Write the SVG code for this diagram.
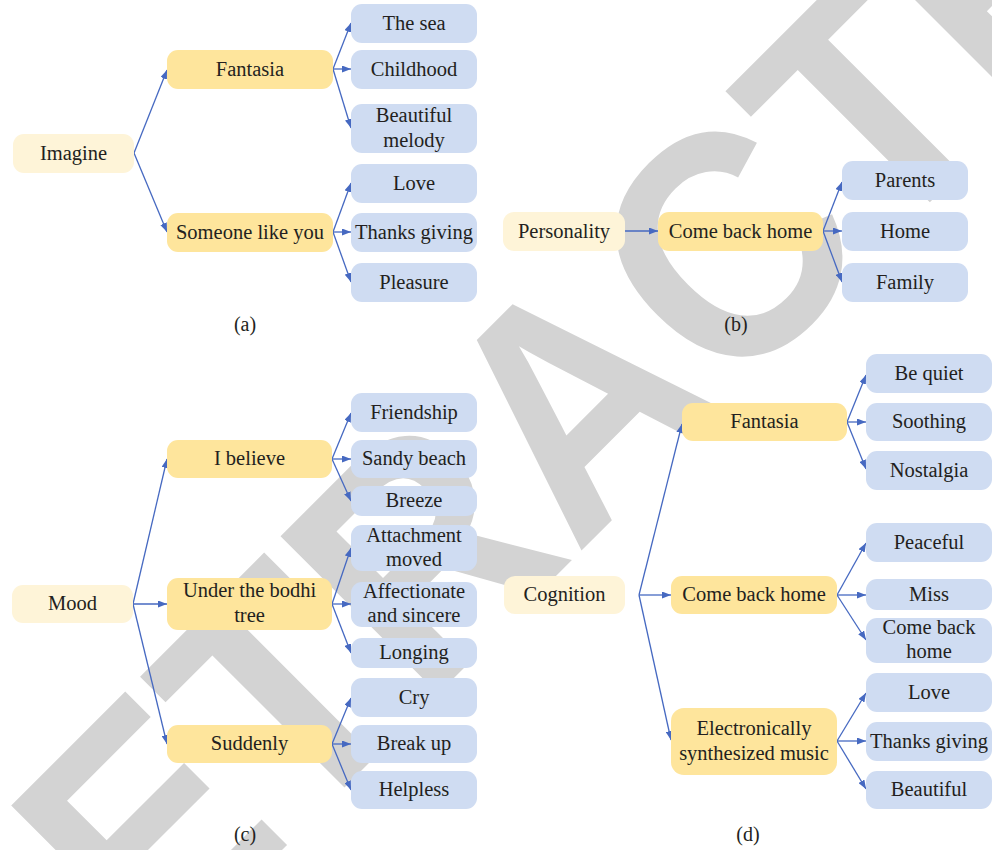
<svg xmlns="http://www.w3.org/2000/svg" width="992" height="850" viewBox="0 0 992 850">
<defs>
<style>
.root{fill:#FEF4D8}
.mid{fill:#FEE59C}
.leaf{fill:#CFDCF2}
.t{font-family:"Liberation Serif","Times New Roman",serif;font-size:20.5px;fill:#231F20;text-anchor:middle}
.cap{font-family:"Liberation Serif","Times New Roman",serif;font-size:20px;fill:#231F20;text-anchor:middle}
.c path{fill:none;stroke:#4669C1;stroke-width:1.3;marker-end:url(#ah)}
.wm{font-family:"Liberation Sans",Arial,sans-serif;font-weight:bold;font-size:324px;fill:#D3D3D3}
</style>
<marker id="ah" markerUnits="userSpaceOnUse" markerWidth="9" markerHeight="7" refX="9" refY="3.5" orient="auto">
<path d="M0,0 L9,3.5 L0,7 z" fill="#4669C1"/>
</marker>
</defs>
<rect width="992" height="850" fill="#FFFFFF"/>
<text class="wm" transform="translate(2.5 1129.5) rotate(-45) scale(0.92 1)">RETRACTED</text>

<g id="connectors" class="c">
<path d="M134,153 L167,70"/>
<path d="M134,153 L167,232"/>
<path d="M333,69 L351,23"/>
<path d="M333,69 L351,69"/>
<path d="M333,69 L351,128"/>
<path d="M333,232 L351,183"/>
<path d="M333,232 L351,232"/>
<path d="M333,232 L351,282"/>

<path d="M625,231 L658,231"/>
<path d="M823,231 L842,182"/>
<path d="M823,231 L842,231"/>
<path d="M823,231 L842,282"/>

<path d="M133,604 L167,459"/>
<path d="M133,604 L167,604"/>
<path d="M133,604 L167,744"/>
<path d="M332,459 L351,413"/>
<path d="M332,459 L351,459"/>
<path d="M332,459 L351,501"/>
<path d="M332,604 L351,548"/>
<path d="M332,604 L351,604"/>
<path d="M332,604 L351,653"/>
<path d="M332,744 L351,698"/>
<path d="M332,744 L351,744"/>
<path d="M332,744 L351,790"/>

<path d="M639,595 L682,424"/>
<path d="M639,595 L671,595"/>
<path d="M639,595 L671,740"/>
<path d="M847,422 L866,375"/>
<path d="M847,422 L866,422"/>
<path d="M847,422 L866,469"/>
<path d="M837,595 L866,543"/>
<path d="M837,595 L866,595"/>
<path d="M837,595 L866,640"/>
<path d="M837,741 L866,693"/>
<path d="M837,741 L866,741"/>
<path d="M837,741 L866,789"/>
</g>

<!-- (a) -->
<g id="a-imagine"><rect class="root" x="13" y="134" width="121" height="39" rx="11"/><text class="t" x="73.5" y="159.5">Imagine</text></g>
<g id="a-fantasia"><rect class="mid" x="167" y="50" width="166" height="39" rx="11"/><text class="t" x="250" y="75.5">Fantasia</text></g>
<g id="a-someone"><rect class="mid" x="167" y="213" width="166" height="39" rx="11"/><text class="t" x="250" y="238.5">Someone like you</text></g>
<g id="a-thesea"><rect class="leaf" x="351" y="4" width="126" height="39" rx="11"/><text class="t" x="414" y="29.5">The sea</text></g>
<g id="a-childhood"><rect class="leaf" x="351" y="50" width="126" height="39" rx="11"/><text class="t" x="414" y="75.5">Childhood</text></g>
<g id="a-melody"><rect class="leaf" x="351" y="104" width="126" height="49" rx="11"/><text class="t" x="414" y="122">Beautiful</text><text class="t" x="414" y="147">melody</text></g>
<g id="a-love"><rect class="leaf" x="351" y="164" width="126" height="39" rx="11"/><text class="t" x="414" y="189.5">Love</text></g>
<g id="a-thanks"><rect class="leaf" x="351" y="213" width="126" height="39" rx="11"/><text class="t" x="414" y="238.5">Thanks giving</text></g>
<g id="a-pleasure"><rect class="leaf" x="351" y="263" width="126" height="39" rx="11"/><text class="t" x="414" y="288.5">Pleasure</text></g>
<text class="cap" x="245" y="331">(a)</text>

<!-- (b) -->
<g id="b-personality"><rect class="root" x="503" y="212" width="122" height="39" rx="11"/><text class="t" x="564" y="237.5">Personality</text></g>
<g id="b-comeback"><rect class="mid" x="658" y="212" width="165" height="39" rx="11"/><text class="t" x="740.5" y="237.5">Come back home</text></g>
<g id="b-parents"><rect class="leaf" x="842" y="161" width="126" height="39" rx="11"/><text class="t" x="905" y="186.5">Parents</text></g>
<g id="b-home"><rect class="leaf" x="842" y="212" width="126" height="39" rx="11"/><text class="t" x="905" y="237.5">Home</text></g>
<g id="b-family"><rect class="leaf" x="842" y="263" width="126" height="39" rx="11"/><text class="t" x="905" y="288.5">Family</text></g>
<text class="cap" x="736" y="331">(b)</text>

<!-- (c) -->
<g id="c-mood"><rect class="root" x="12" y="585" width="121" height="38" rx="11"/><text class="t" x="72.5" y="610">Mood</text></g>
<g id="c-ibelieve"><rect class="mid" x="167" y="440" width="165" height="38" rx="11"/><text class="t" x="249.5" y="465">I believe</text></g>
<g id="c-bodhi"><rect class="mid" x="167" y="578" width="165" height="52" rx="11"/><text class="t" x="249.5" y="597">Under the bodhi</text><text class="t" x="249.5" y="622">tree</text></g>
<g id="c-suddenly"><rect class="mid" x="167" y="725" width="165" height="38" rx="11"/><text class="t" x="249.5" y="750">Suddenly</text></g>
<g id="c-friendship"><rect class="leaf" x="351" y="393" width="126" height="39" rx="11"/><text class="t" x="414" y="418.5">Friendship</text></g>
<g id="c-sandy"><rect class="leaf" x="351" y="440" width="126" height="38" rx="11"/><text class="t" x="414" y="465">Sandy beach</text></g>
<g id="c-breeze"><rect class="leaf" x="351" y="486" width="126" height="30" rx="11"/><text class="t" x="414" y="507">Breeze</text></g>
<g id="c-attachment"><rect class="leaf" x="351" y="525" width="126" height="46" rx="11"/><text class="t" x="414" y="542">Attachment</text><text class="t" x="414" y="566">moved</text></g>
<g id="c-affection"><rect class="leaf" x="351" y="582" width="126" height="45" rx="11"/><text class="t" x="414" y="598">Affectionate</text><text class="t" x="414" y="622">and sincere</text></g>
<g id="c-longing"><rect class="leaf" x="351" y="638" width="126" height="30" rx="11"/><text class="t" x="414" y="659">Longing</text></g>
<g id="c-cry"><rect class="leaf" x="351" y="678" width="126" height="39" rx="11"/><text class="t" x="414" y="703.5">Cry</text></g>
<g id="c-breakup"><rect class="leaf" x="351" y="725" width="126" height="38" rx="11"/><text class="t" x="414" y="750">Break up</text></g>
<g id="c-helpless"><rect class="leaf" x="351" y="771" width="126" height="38" rx="11"/><text class="t" x="414" y="796">Helpless</text></g>
<text class="cap" x="245" y="841">(c)</text>

<!-- (d) -->
<g id="d-cognition"><rect class="root" x="504" y="576" width="121" height="38" rx="11"/><text class="t" x="564.5" y="601">Cognition</text></g>
<g id="d-fantasia"><rect class="mid" x="682" y="403" width="165" height="38" rx="11"/><text class="t" x="764.5" y="428">Fantasia</text></g>
<g id="d-comeback"><rect class="mid" x="671" y="576" width="166" height="38" rx="11"/><text class="t" x="754" y="601">Come back home</text></g>
<g id="d-electro"><rect class="mid" x="671" y="708" width="166" height="67" rx="13"/><text class="t" x="754" y="735">Electronically</text><text class="t" x="754" y="760">synthesized music</text></g>
<g id="d-bequiet"><rect class="leaf" x="866" y="354" width="126" height="39" rx="11"/><text class="t" x="929" y="379.5">Be quiet</text></g>
<g id="d-soothing"><rect class="leaf" x="866" y="403" width="126" height="38" rx="11"/><text class="t" x="929" y="428">Soothing</text></g>
<g id="d-nostalgia"><rect class="leaf" x="866" y="451" width="126" height="39" rx="11"/><text class="t" x="929" y="476.5">Nostalgia</text></g>
<g id="d-peaceful"><rect class="leaf" x="866" y="523" width="126" height="39" rx="11"/><text class="t" x="929" y="548.5">Peaceful</text></g>
<g id="d-miss"><rect class="leaf" x="866" y="579" width="126" height="31" rx="11"/><text class="t" x="929" y="601">Miss</text></g>
<g id="d-comebackleaf"><rect class="leaf" x="866" y="618" width="126" height="45" rx="11"/><text class="t" x="929" y="634">Come back</text><text class="t" x="929" y="658">home</text></g>
<g id="d-love"><rect class="leaf" x="866" y="673" width="126" height="39" rx="11"/><text class="t" x="929" y="698.5">Love</text></g>
<g id="d-thanks"><rect class="leaf" x="866" y="722" width="126" height="39" rx="11"/><text class="t" x="929" y="747.5">Thanks giving</text></g>
<g id="d-beautiful"><rect class="leaf" x="866" y="771" width="126" height="38" rx="11"/><text class="t" x="929" y="796">Beautiful</text></g>
<text class="cap" x="748" y="841">(d)</text>
</svg>
